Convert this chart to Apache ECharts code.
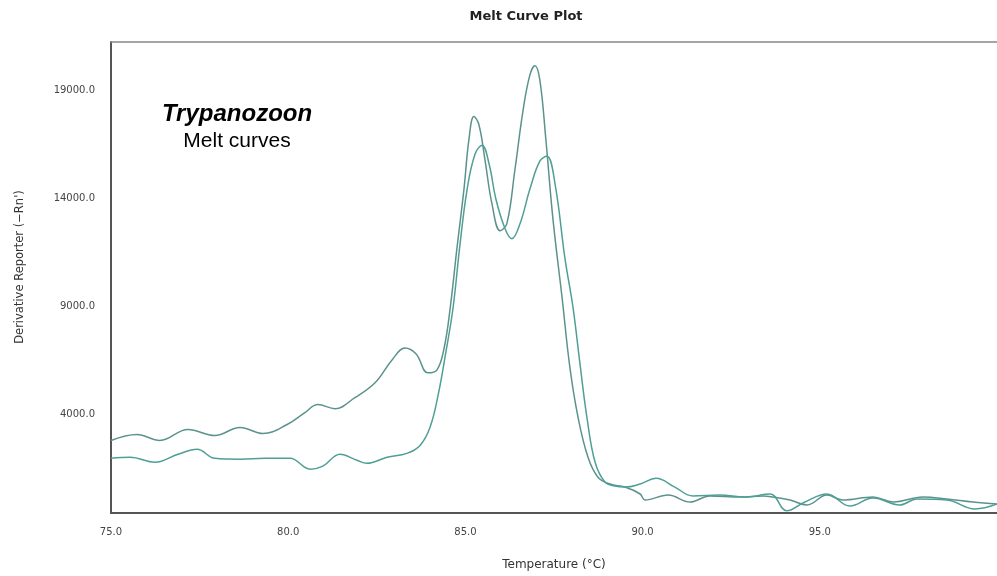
<!DOCTYPE html>
<html>
<head>
<meta charset="utf-8">
<script src="https://cdn.jsdelivr.net/npm/echarts@6/dist/echarts.min.js"></script>
<style>
html,body{margin:0;padding:0;background:#fff;}
#chart{width:997px;height:576px;}
</style>
</head>
<body>
<div id="chart"></div>
<script>
// Temperature (°C) and derivative reporter values
var tempA = [75.00, 75.73, 76.38, 77.17, 77.93, 78.64, 79.29, 79.97, 80.47, 80.84, 81.32, 81.88, 82.45, 82.93, 83.30, 83.61, 83.94, 84.20, 84.40, 84.57, 84.76, 84.96, 85.10, 85.24, 85.38, 85.55, 85.75, 85.98, 86.17, 86.40, 86.63, 86.82, 86.96, 87.10, 87.27, 87.47, 87.73, 87.95, 88.18, 88.46, 88.74, 89.08, 89.50, 89.93, 90.07, 90.72, 91.34, 91.90, 92.75, 93.40, 93.68, 94.16, 94.64, 95.20, 95.65, 96.50, 97.07, 97.91, 98.59, 99.32, 100.0];
var valA = [2800, 3080, 2800, 3310, 3030, 3400, 3120, 3540, 4090, 4460, 4270, 4780, 5470, 6530, 7080, 6800, 5930, 6070, 7080, 8920, 11680, 14440, 16740, 17800, 17430, 15820, 13750, 12510, 12840, 15370, 18120, 19730, 20150, 19500, 16740, 13060, 9380, 6160, 3860, 2020, 1100, 780, 640, 320, 40, 270, -50, 230, 180, 230, 180, 40, -190, 270, 40, 180, -50, 180, 90, -50, -140];

var tempB = [75.00, 75.54, 76.24, 76.89, 77.43, 77.93, 78.64, 79.35, 80.05, 80.62, 80.98, 81.46, 81.94, 82.22, 82.79, 83.35, 83.72, 84.00, 84.23, 84.45, 84.65, 84.85, 85.05, 85.27, 85.47, 85.67, 85.86, 86.12, 86.31, 86.54, 86.82, 87.10, 87.30, 87.53, 87.81, 88.04, 88.23, 88.43, 88.66, 88.94, 89.22, 89.50, 89.93, 90.38, 90.91, 91.42, 92.18, 92.89, 93.60, 94.07, 94.58, 95.20, 95.85, 96.50, 97.26, 97.74, 98.59, 99.38, 100.0];
var valB = [1970, 2020, 1790, 2160, 2390, 1970, 1930, 1970, 1970, 1470, 1610, 2160, 1880, 1740, 2020, 2200, 2570, 3400, 4900, 6900, 8920, 11910, 14440, 16050, 16470, 15590, 13980, 12600, 12140, 12830, 14440, 15730, 15960, 14670, 11220, 8920, 6390, 3860, 1790, 870, 690, 640, 780, 1050, 640, 230, 270, 180, 320, -460, -50, 320, -240, 130, -190, 90, 40, -370, -140];

var xTicks = [75, 80, 85, 90, 95];
var yTicks = [4000, 9000, 14000, 19000];

function pairs(xs, ys){ return xs.map(function(x,i){ return [x, ys[i]]; }); }
function fmt(v){ return v.toFixed(1); }

var chart = echarts.init(document.getElementById('chart'));
chart.setOption({
  animation: false,
  backgroundColor: '#ffffff',
  grid: {left: 111, right: 0, top: 42, bottom: 60},
  graphic: [
    {type: 'text', x: 526, y: 17, style: {text: 'Melt Curve Plot', font: 'bold 13px "DejaVu Sans"', fill: '#222', textAlign: 'center', textVerticalAlign: 'middle'}},
    {type: 'text', x: 237, y: 114, style: {text: 'Trypanozoon', font: 'italic bold 24px "Liberation Sans"', fill: '#000', textAlign: 'center', textVerticalAlign: 'middle'}},
    {type: 'text', x: 237, y: 141, style: {text: 'Melt curves', font: '21px "Liberation Sans"', fill: '#000', textAlign: 'center', textVerticalAlign: 'middle'}},
    {type: 'text', x: 20, y: 267, rotation: Math.PI / 2, style: {text: "Derivative Reporter (\u2212Rn')", font: '11.5px "DejaVu Sans"', fill: '#333', textAlign: 'center', textVerticalAlign: 'middle'}}
  ],
  xAxis: [{
    type: 'value', min: 75, max: 100,
    name: 'Temperature (°C)', nameLocation: 'middle', nameGap: 46,
    nameTextStyle: {fontFamily: 'DejaVu Sans', fontSize: 12, color: '#333'},
    axisLine: {show: true, onZero: false, lineStyle: {color: '#555', width: 2}},
    axisTick: {show: false},
    splitLine: {show: false},
    axisLabel: {customValues: xTicks, formatter: fmt, fontFamily: 'DejaVu Sans', fontSize: 10, color: '#444', margin: 14}
  }, {
    type: 'value', min: 75, max: 100, position: 'top',
    axisLine: {show: true, onZero: false, lineStyle: {color: '#888', width: 1.5}},
    axisTick: {show: false}, axisLabel: {show: false}, splitLine: {show: false}
  }],
  yAxis: {
    type: 'value', min: -560, max: 21250,
    axisLine: {show: true, onZero: false, lineStyle: {color: '#555', width: 2}},
    axisTick: {show: false},
    splitLine: {show: false},
    axisLabel: {customValues: yTicks, formatter: fmt, fontFamily: 'DejaVu Sans', fontSize: 10, color: '#444', margin: 16}
  },
  series: [
    {type: 'line', data: pairs(tempA, valA), showSymbol: false, smooth: 0.4, lineStyle: {color: '#5b938c', width: 1.5}, itemStyle: {color: '#5b938c'}},
    {type: 'line', data: pairs(tempB, valB), showSymbol: false, smooth: 0.4, lineStyle: {color: '#4f9f97', width: 1.5}, itemStyle: {color: '#4f9f97'}}
  ]
});
</script>
</body>
</html>
